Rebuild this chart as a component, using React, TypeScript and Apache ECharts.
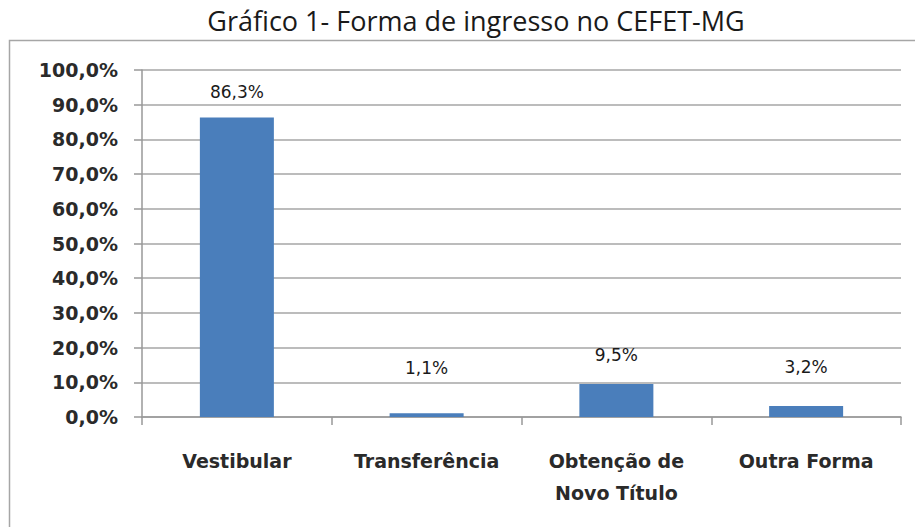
import React, { useEffect, useRef } from "react";
import * as echarts from "echarts";

const categories = ["Vestibular", "Transferência", "Obtenção de\nNovo Título", "Outra Forma"];
const values = [86.3, 1.1, 9.5, 3.2];
const yTicks = [0, 10, 20, 30, 40, 50, 60, 70, 80, 90, 100];
const titleText = "Gráfico 1- Forma de ingresso no CEFET-MG";
// label gap above each bar (style only, as placed in the original)
const labelGaps = [17, 37, 21, 30];

const fmt = (v: number, d: number) => v.toFixed(d).replace(".", ",") + "%";

export default function App() {
  const ref = useRef<HTMLDivElement>(null);
  useEffect(() => {
    if (!ref.current) return;
    const chart = echarts.init(ref.current, null, { renderer: "svg" });
    chart.setOption({
      animation: false,
      backgroundColor: "#ffffff",
      title: {
        text: titleText,
        left: 471,
        textAlign: "center",
        top: 2,
        textStyle: { fontFamily: "Open Sans", fontSize: 27, fontWeight: "normal", color: "#1a1a1a" },
      },
      graphic: [
        {
          type: "polyline",
          shape: { points: [[9.5, 540], [9.5, 40.5], [920, 40.5]] },
          style: { stroke: "#a6a6a6", lineWidth: 1.5, fill: "none" },
          silent: true,
        },
      ],
      grid: { left: 142, right: 14, top: 70, bottom: 110, containLabel: false },
      xAxis: {
        type: "category",
        data: categories,
        axisLine: { show: true, lineStyle: { color: "#999999", width: 1.5 } },
        axisTick: { show: true, length: 8, lineStyle: { color: "#999999", width: 1.5 } },
        axisLabel: {
          margin: 28,
          lineHeight: 32,
          fontFamily: "DejaVu Sans",
          fontWeight: "bold",
          fontSize: 19,
          color: "#2a2a2a",
          interval: 0,
        },
      },
      yAxis: {
        type: "value",
        min: 0,
        max: 100,
        interval: 10,
        axisLine: { show: true, lineStyle: { color: "#999999", width: 1.5 } },
        axisTick: { show: true, length: 8, lineStyle: { color: "#999999", width: 1.5 } },
        splitLine: { show: true, lineStyle: { color: "#a6a6a6", width: 1.5 } },
        axisLabel: {
          margin: 24,
          fontFamily: "DejaVu Sans",
          fontWeight: "bold",
          fontSize: 19,
          color: "#2a2a2a",
          formatter: (v: number) => (yTicks.includes(v) ? fmt(v, 1) : ""),
        },
      },
      series: [
        {
          type: "bar",
          data: values.map((v, i) => ({ value: v, label: { distance: labelGaps[i] } })),
          barWidth: "39%",
          itemStyle: { color: "#4a7ebb" },
          label: {
            show: true,
            position: "top",
            fontFamily: "DejaVu Sans",
            fontSize: 17,
            color: "#1a1a1a",
            formatter: (p: any) => fmt(p.value, 1),
          },
        },
      ],
    });
    return () => chart.dispose();
  }, []);
  return <div ref={ref} style={{ width: 915, height: 527, position: "fixed", left: 0, top: 0 }} />;
}
